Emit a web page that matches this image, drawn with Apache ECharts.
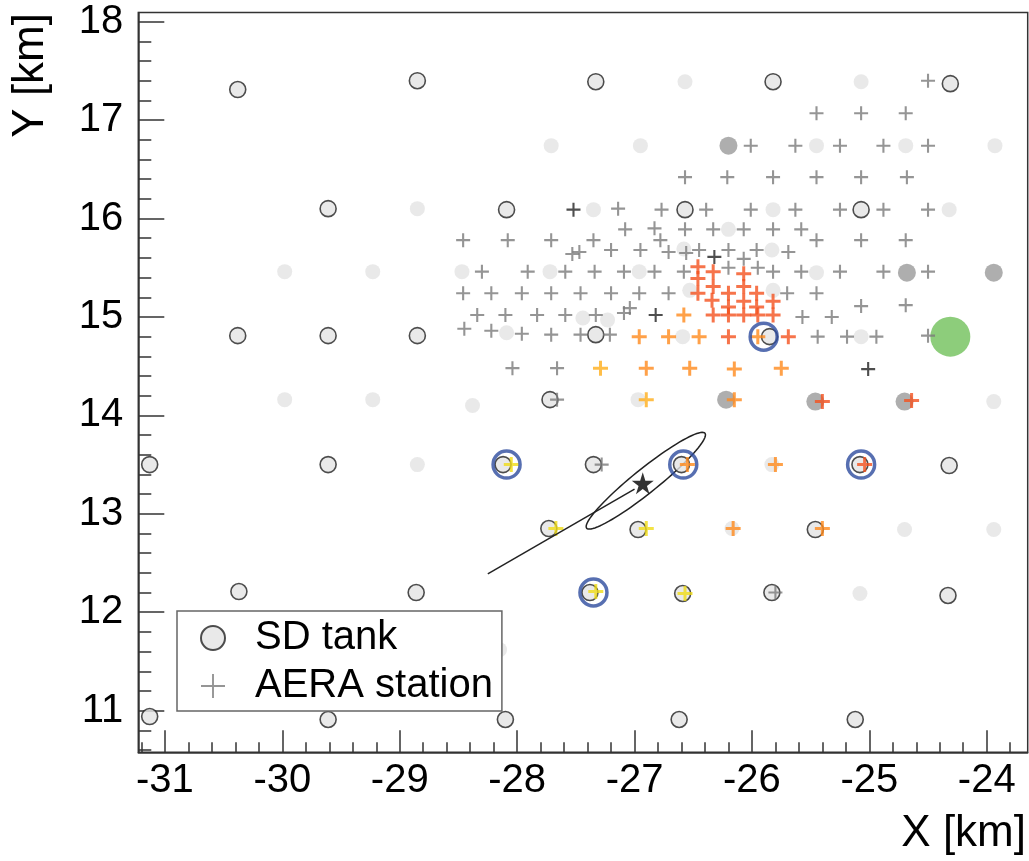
<!DOCTYPE html>
<html><head><meta charset="utf-8">
<script src="https://cdn.jsdelivr.net/npm/echarts@6/dist/echarts.min.js"></script>
<style>html,body{margin:0;padding:0;background:#fff}#c{width:1029px;height:861px}</style>
</head><body><div id="c"></div>
<script>
// ---- tick labels ----
const xTickLabels = [-31, -30, -29, -28, -27, -26, -25, -24];
const yTickLabels = [11, 12, 13, 14, 15, 16, 17, 18];

// ---- SD tanks (1.5 km grid), km ----
const sdTanks = [
  [-30.38,17.31],[-28.85,17.40],[-27.33,17.39],[-25.82,17.39],[-24.31,17.37],
  [-29.61,16.10],[-28.09,16.09],[-26.57,16.09],[-25.07,16.09],
  [-30.38,14.81],[-29.61,14.81],[-28.85,14.81],[-27.33,14.82],[-25.85,14.80],
  [-27.72,14.16],
  [-31.13,13.50],[-29.61,13.50],[-28.12,13.50],[-27.35,13.50],[-26.60,13.50],[-25.08,13.50],[-24.32,13.49],
  [-27.73,12.85],[-26.97,12.84],[-25.46,12.84],
  [-30.37,12.21],[-28.86,12.20],[-27.38,12.20],[-26.59,12.19],[-25.83,12.20],[-24.33,12.17],
  [-31.13,10.94],[-29.61,10.91],[-28.10,10.91],[-26.62,10.91],[-25.12,10.91]
];
// light grey tanks
const infillTanks = [
  [-26.57,17.39],[-25.07,17.39],
  [-27.71,16.74],[-26.95,16.74],[-25.45,16.74],[-24.69,16.74],[-23.93,16.74],
  [-28.85,16.10],[-27.35,16.09],[-25.82,16.09],[-24.32,16.09],
  [-29.98,15.46],[-29.23,15.46],[-28.47,15.46],[-27.72,15.46],[-26.96,15.46],[-25.45,15.45],
  [-26.20,15.89],[-26.58,15.69],[-25.83,15.68],[-26.53,15.27],[-25.82,15.27],
  [-27.44,14.99],[-27.23,14.97],[-28.09,14.84],[-26.59,14.80],[-25.07,14.80],
  [-29.98,14.16],[-29.23,14.16],[-28.38,14.10],[-26.97,14.16],[-23.94,14.14],
  [-28.85,13.50],[-25.83,13.50],
  [-26.17,12.85],[-24.70,12.84],[-23.94,12.84],
  [-25.08,12.19],[-28.15,11.62]
];
// darker grey tanks
const darkTanks = [
  [-26.20,16.74],[-24.68,15.45],[-23.94,15.45],[-26.22,14.16],[-25.46,14.14],[-24.70,14.14]
];
// green tank
const hybridTank = [[-24.31,14.80]];

// ---- AERA stations ----
const aeraGrey = [
  [-24.50,17.40],
  [-25.45,17.07],[-25.07,17.07],[-24.69,17.07],
  [-26.01,16.74],[-25.63,16.74],[-25.25,16.74],[-24.88,16.74],[-24.50,16.74],
  [-26.57,16.42],[-26.21,16.42],[-25.82,16.42],[-25.45,16.42],[-25.07,16.42],[-24.68,16.42],
  [-27.14,16.10],[-26.77,16.09],[-26.39,16.09],[-26.01,16.09],[-25.63,16.09],[-25.25,16.09],[-24.88,16.09],[-24.50,16.09],
  [-27.08,15.89],[-26.83,15.90],[-26.57,15.89],[-26.33,15.89],[-26.07,15.89],[-25.82,15.89],[-25.58,15.89],
  [-28.46,15.78],[-28.08,15.78],[-27.71,15.78],[-27.35,15.78],[-26.78,15.78],[-25.45,15.78],[-25.07,15.78],[-24.69,15.78],
  [-27.53,15.64],[-27.47,15.66],[-27.20,15.68],[-26.95,15.68],[-26.71,15.66],[-26.56,15.65],[-26.45,15.68],[-26.20,15.68],[-25.96,15.68],[-25.69,15.66],
  [-26.07,15.59],
  [-28.30,15.46],[-27.91,15.46],[-27.59,15.46],[-27.34,15.46],[-27.09,15.46],[-26.83,15.46],[-26.58,15.46],[-26.20,15.50],[-25.95,15.50],[-25.82,15.46],[-25.58,15.46],[-25.25,15.46],[-24.88,15.46],[-24.50,15.46],
  [-28.46,15.24],[-28.22,15.24],[-27.96,15.24],[-27.71,15.24],[-27.46,15.24],[-27.20,15.24],[-26.96,15.24],[-26.71,15.24],[-25.70,15.24],[-25.45,15.24],
  [-28.34,15.02],[-28.10,15.02],[-27.83,15.02],[-27.59,15.02],[-27.33,15.02],[-27.09,15.04],[-27.04,15.09],[-25.57,15.00],[-25.32,15.00],[-25.07,15.11],[-24.69,15.12],
  [-28.45,14.88],[-28.22,14.86],[-27.96,14.83],[-27.71,14.82],[-27.46,14.82],[-27.21,14.82],[-25.44,14.80],[-25.19,14.80],[-24.94,14.80],[-24.50,14.81],
  [-28.04,14.48],[-27.66,14.48],
  [-27.66,14.16],[-27.28,13.50],[-25.80,12.20]
];
const aeraDark = [[-27.52,16.09],[-26.82,15.02],[-25.01,14.47],[-26.32,15.61]];
const aeraOrange = [
  [-26.58,15.02],[-26.96,14.80],[-26.71,14.80],[-26.45,14.80],[-25.95,14.80],
  [-26.90,14.48],[-26.53,14.48],[-26.15,14.47],[-25.75,14.48],
  [-26.15,14.16],[-26.55,13.50],[-25.80,13.50],[-26.16,12.85],[-25.40,12.85]
];
const aeraRed = [
  [-26.46,15.51],[-26.33,15.46],[-26.46,15.39],[-26.33,15.31],[-26.46,15.24],[-26.20,15.24],[-26.34,15.17],
  [-26.07,15.44],[-26.07,15.31],[-26.07,15.16],[-25.96,15.24],[-25.96,15.10],[-26.20,15.10],[-25.82,15.16],
  [-26.33,15.02],[-26.20,15.02],[-26.07,15.02],[-25.95,15.02],[-25.82,15.02],
  [-26.20,14.80],[-25.69,14.80],[-25.40,14.14],[-24.64,14.15],[-25.04,13.50]
];
const aeraAmber = [[-27.29,14.48],[-26.90,14.16]];
const aeraYellow = [[-28.05,13.50],[-27.67,12.85],[-26.90,12.85],[-27.33,12.21],[-26.57,12.19]];
const ringed = [[-28.09,13.50],[-26.585,13.50],[-25.07,13.50],[-27.35,12.20],[-25.90,14.80]];

// ---- reconstruction ----
const corePos = [[-26.93,13.31]];
// ellipse: centre x, centre y, tip x, tip y, minor/major ratio
const errEllipse = [[-26.904,13.336,-26.400,13.818,0.16]];
const tailLine = [[-28.25,12.39],[-27.00,13.25]];

const FONT = "'Liberation Sans', Arial, Helvetica, sans-serif";
const X_MIN = -31.227, X_MAX = -23.651, Y_MIN = 10.577, Y_MAX = 18.093;
const minorX = [], minorY = [];
for (let i = -156; i <= -119; i++) minorX.push(+(i * 0.2).toFixed(1));
for (let i = 53; i <= 90; i++) minorY.push(+(i * 0.2).toFixed(1));

const crossPath = 'path://M-1,-0.15H-0.15V-1H0.15V-0.15H1V0.15H0.15V1H-0.15V0.15H-1Z';
const crossBold = 'path://M-1,-0.2H-0.2V-1H0.2V-0.2H1V0.2H0.2V1H-0.2V0.2H-1Z';
const crossThin = 'path://M-1,-0.08H-0.08V-1H0.08V-0.08H1V0.08H0.08V1H-0.08V0.08H-1Z';
const starPath = 'path://M0,-1L0.2245,-0.309L0.951,-0.309L0.363,0.118L0.588,0.809L0,0.382L-0.588,0.809L-0.363,0.118L-0.951,-0.309L-0.2245,-0.309Z';

const chart = echarts.init(document.getElementById('c'));
const tickStyle = {color:'#333', width:1.5};
chart.setOption({
  animation: false,
  backgroundColor: '#fff',
  grid: {left:138.3, top:12.5, right:1.3, bottom:108.7, show:true, borderColor:'#333', borderWidth:1.5, backgroundColor:'transparent'},
  xAxis: [
    {type:'value', min:X_MIN, max:X_MAX, position:'bottom',
     axisLine:{show:true, lineStyle:tickStyle},
     axisTick:{show:true, inside:true, length:22, customValues:xTickLabels, lineStyle:tickStyle},
     axisLabel:{show:true, customValues:xTickLabels, margin:9, color:'#000', fontSize:40, fontFamily:FONT, formatter:v=>String(Math.round(v))},
     splitLine:{show:false}},
    {type:'value', min:X_MIN, max:X_MAX, position:'bottom',
     axisLine:{show:false}, axisLabel:{show:false},
     axisTick:{show:true, inside:true, length:10, customValues:minorX, lineStyle:tickStyle},
     splitLine:{show:false}}
  ],
  yAxis: [
    {type:'value', min:Y_MIN, max:Y_MAX, position:'left',
     axisLine:{show:true, lineStyle:tickStyle},
     axisTick:{show:true, inside:true, length:26, customValues:yTickLabels, lineStyle:tickStyle},
     axisLabel:{show:true, customValues:yTickLabels, margin:15, color:'#000', fontSize:40, fontFamily:FONT, formatter:v=>String(Math.round(v))},
     splitLine:{show:false}},
    {type:'value', min:Y_MIN, max:Y_MAX, position:'left',
     axisLine:{show:false}, axisLabel:{show:false},
     axisTick:{show:true, inside:true, length:13, customValues:minorY, lineStyle:tickStyle},
     splitLine:{show:false}}
  ],
  legend: {
    data:[{name:'SD tank', icon:'circle'}, {name:'AERA station', icon:crossThin}],
    orient:'vertical', left:177, top:611, itemWidth:74, itemHeight:24, itemGap:8,
    padding:[7,9,5,23], borderColor:'#666', borderWidth:1.5, backgroundColor:'#fff',
    selectedMode:false,
    textStyle:{fontSize:40, color:'#000', fontFamily:FONT}
  },
  graphic: [
    {type:'text', x:31, y:13, rotation:Math.PI/2, style:{text:'Y [km]', font:'44px '+FONT, fill:'#000', align:'right', verticalAlign:'middle'}},
    {type:'text', x:1026, y:834, style:{text:'X [km]', font:'44px '+FONT, fill:'#000', align:'right', verticalAlign:'middle'}}
  ],
  series: [
    {name:'infill', type:'scatter', data:infillTanks, symbol:'circle', symbolSize:15, itemStyle:{color:'#e3e3e3'}, silent:true},
    {name:'dark', type:'scatter', data:darkTanks, symbol:'circle', symbolSize:18, itemStyle:{color:'#9a9a9a'}, silent:true},
    {name:'hybrid', type:'scatter', data:hybridTank, symbol:'circle', symbolSize:40, itemStyle:{color:'#71c05a'}, silent:true},
    {name:'SD tank', type:'scatter', data:sdTanks, symbol:'circle', symbolSize:16, itemStyle:{color:'#e4e4e4', borderColor:'#222', borderWidth:1.6}, silent:true},
    {name:'AERA station', type:'scatter', data:aeraGrey, symbol:crossPath, symbolSize:14, itemStyle:{color:'#7a7a7a'}, silent:true},
    {name:'aera dark', type:'scatter', data:aeraDark, symbol:crossPath, symbolSize:14, itemStyle:{color:'#222'}, silent:true},
    {name:'aera orange', type:'scatter', data:aeraOrange, symbol:crossBold, symbolSize:15, itemStyle:{color:'#ff8a1c'}, silent:true},
    {name:'aera red', type:'scatter', data:aeraRed, symbol:crossBold, symbolSize:15, itemStyle:{color:'#f4511e'}, silent:true},
    {name:'aera amber', type:'scatter', data:aeraAmber, symbol:crossBold, symbolSize:15, itemStyle:{color:'#ffae1a'}, silent:true},
    {name:'aera yellow', type:'scatter', data:aeraYellow, symbol:crossBold, symbolSize:15, itemStyle:{color:'#f0dc16'}, silent:true},
    {name:'rings', type:'scatter', data:ringed, symbol:'circle', symbolSize:27, itemStyle:{color:'rgba(0,0,0,0)', borderColor:'#2d4b9e', borderWidth:3.5}, silent:true},
    {name:'ellipse', type:'custom', data:errEllipse, silent:true,
     renderItem:function(params, api){
       const c = api.coord([api.value(0), api.value(1)]);
       const t = api.coord([api.value(2), api.value(3)]);
       const r = api.value(4);
       const ax = t[0]-c[0], ay = t[1]-c[1];
       const bx = -ay*r, by = ax*r;
       const pts = [];
       for (let i = 0; i < 90; i++) { const a = i/90*2*Math.PI; pts.push([c[0]+Math.cos(a)*ax+Math.sin(a)*bx, c[1]+Math.cos(a)*ay+Math.sin(a)*by]); }
       return {type:'polygon', shape:{points:pts}, style:{fill:'none', stroke:'#222', lineWidth:1.5}};
     }},
    {name:'tail', type:'line', data:tailLine, symbol:'none', lineStyle:{color:'#222', width:1.5}, silent:true},
    {name:'core', type:'scatter', data:corePos, symbol:starPath, symbolSize:22, itemStyle:{color:'#000'}, silent:true}
  ]
});
</script>
</body></html>
